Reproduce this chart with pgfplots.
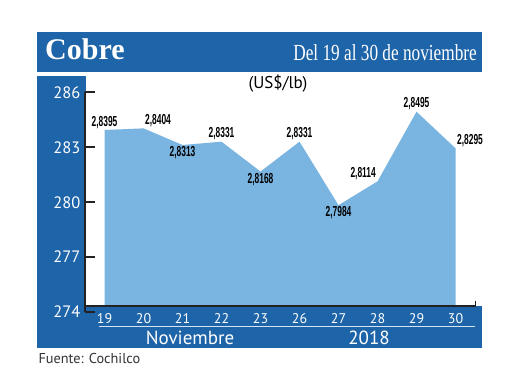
\documentclass[border=0pt]{standalone}
\usepackage{pgfplots}
\pgfplotsset{compat=1.18}
\usepackage{fontspec}
\setmainfont{PT Sans}
\newfontfamily\titlefont{Liberation Serif}
\newfontfamily\condserif[FakeStretch=0.75]{Liberation Serif}
\newfontfamily\lblfontfam[FakeStretch=0.58]{Liberation Sans}
\newcommand\lblfont{\lblfontfam\bfseries\fontsize{14.5}{14.5}\selectfont}
\definecolor{darkblue}{HTML}{1E64A8}
\definecolor{fillblue}{HTML}{7AB4E0}
\definecolor{axisdark}{HTML}{222222}
\definecolor{sepline}{HTML}{D4E4F4}

\begin{document}
\begin{tikzpicture}[x=1pt,y=1pt]
\fill[white] (0,0) rectangle (520,390);
% banner
\fill[darkblue] (36.7,318.3) rectangle (481.7,358.3);
\node[anchor=base west, text=white, inner sep=0] at (45,330) {\titlefont\bfseries\fontsize{30}{30}\selectfont Cobre};
\node[anchor=base east, text=white, inner sep=0] at (477,329.3) {\condserif\fontsize{23}{23}\selectfont Del 19 al 30 de noviembre};
% left and bottom bands
\fill[darkblue] (36.7,42) rectangle (86,314);
\fill[darkblue] (36.7,42) rectangle (481.7,84);
\draw[sepline, line width=1.3pt] (99,63.3) -- (475,63.3);
\node[anchor=base, text=white, inner sep=0] at (190,45.5) {\fontsize{19}{19}\selectfont Noviembre};
\node[anchor=base, text=white, inner sep=0] at (369,45.5) {\fontsize{19}{19}\selectfont 2018};
\node[anchor=base, inner sep=0] at (278,301.7) {\fontsize{17}{17}\selectfont (US\$/lb)};
\node[anchor=base west, text=black!80, inner sep=0] at (38.3,26.7) {\fontsize{14.3}{14.3}\selectfont Fuente: Cochilco};

\begin{axis}[
  at={(85pt,78pt)}, anchor=south west,
  scale only axis, width=390pt, height=219.5pt,
  xmin=-0.5, xmax=9.5, ymin=274, ymax=286,
  axis x line*=bottom, axis y line*=left,
  x axis line style={draw=none},
  y axis line style={line width=2pt, color=axisdark},
  xtick={0,...,9},
  xticklabels={19,20,21,22,23,26,27,28,29,30},
  xtick style={draw=none},
  ytick={274,277,280,283,286},
  ytick style={line width=2pt, color=axisdark},
  tick align=inside, major tick length=10pt,
  /pgf/number format/assume math mode=true,
  x tick label style={font=\fontsize{14}{14}\selectfont, text=white, yshift=2pt},
  y tick label style={font=\fontsize{16.5}{16.5}\selectfont, text=white, xshift=-1pt},
  clip=false,
  lbl/.style={draw=none, mark=none, nodes near coords, point meta=explicit symbolic,
    nodes near coords style={anchor=#1, font=\lblfont, inner sep=1.5pt, text=black}},
]
\addplot[fill=fillblue, draw=none] coordinates {
  (0,274.3) (0,283.95) (1,284.04) (2,283.13) (3,283.31) (4,281.68)
  (5,283.31) (6,279.84) (7,281.14) (8,284.95) (9,282.95) (9,274.3)} -- cycle;
\addplot[lbl=south] coordinates {(0,283.95) [2,8395] (3,283.31) [2,8331] (5,283.31) [2,8331] (8,284.95) [2,8495]};
\addplot[lbl=south west] coordinates {(1,284.04) [2,8404] (9,282.95) [2,8295]};
\addplot[lbl=north] coordinates {(2,283.13) [2,8313] (4,281.68) [2,8168] (6,279.84) [2,7984]};
\addplot[lbl=south east] coordinates {(7,281.14) [2,8114]};
\end{axis}
\draw[axisdark, line width=2pt] (85,83.5) -- (476,83.5);
\draw[axisdark, line width=1.5pt] (475.5,83.5) -- (475.5,89);
\end{tikzpicture}
\end{document}
